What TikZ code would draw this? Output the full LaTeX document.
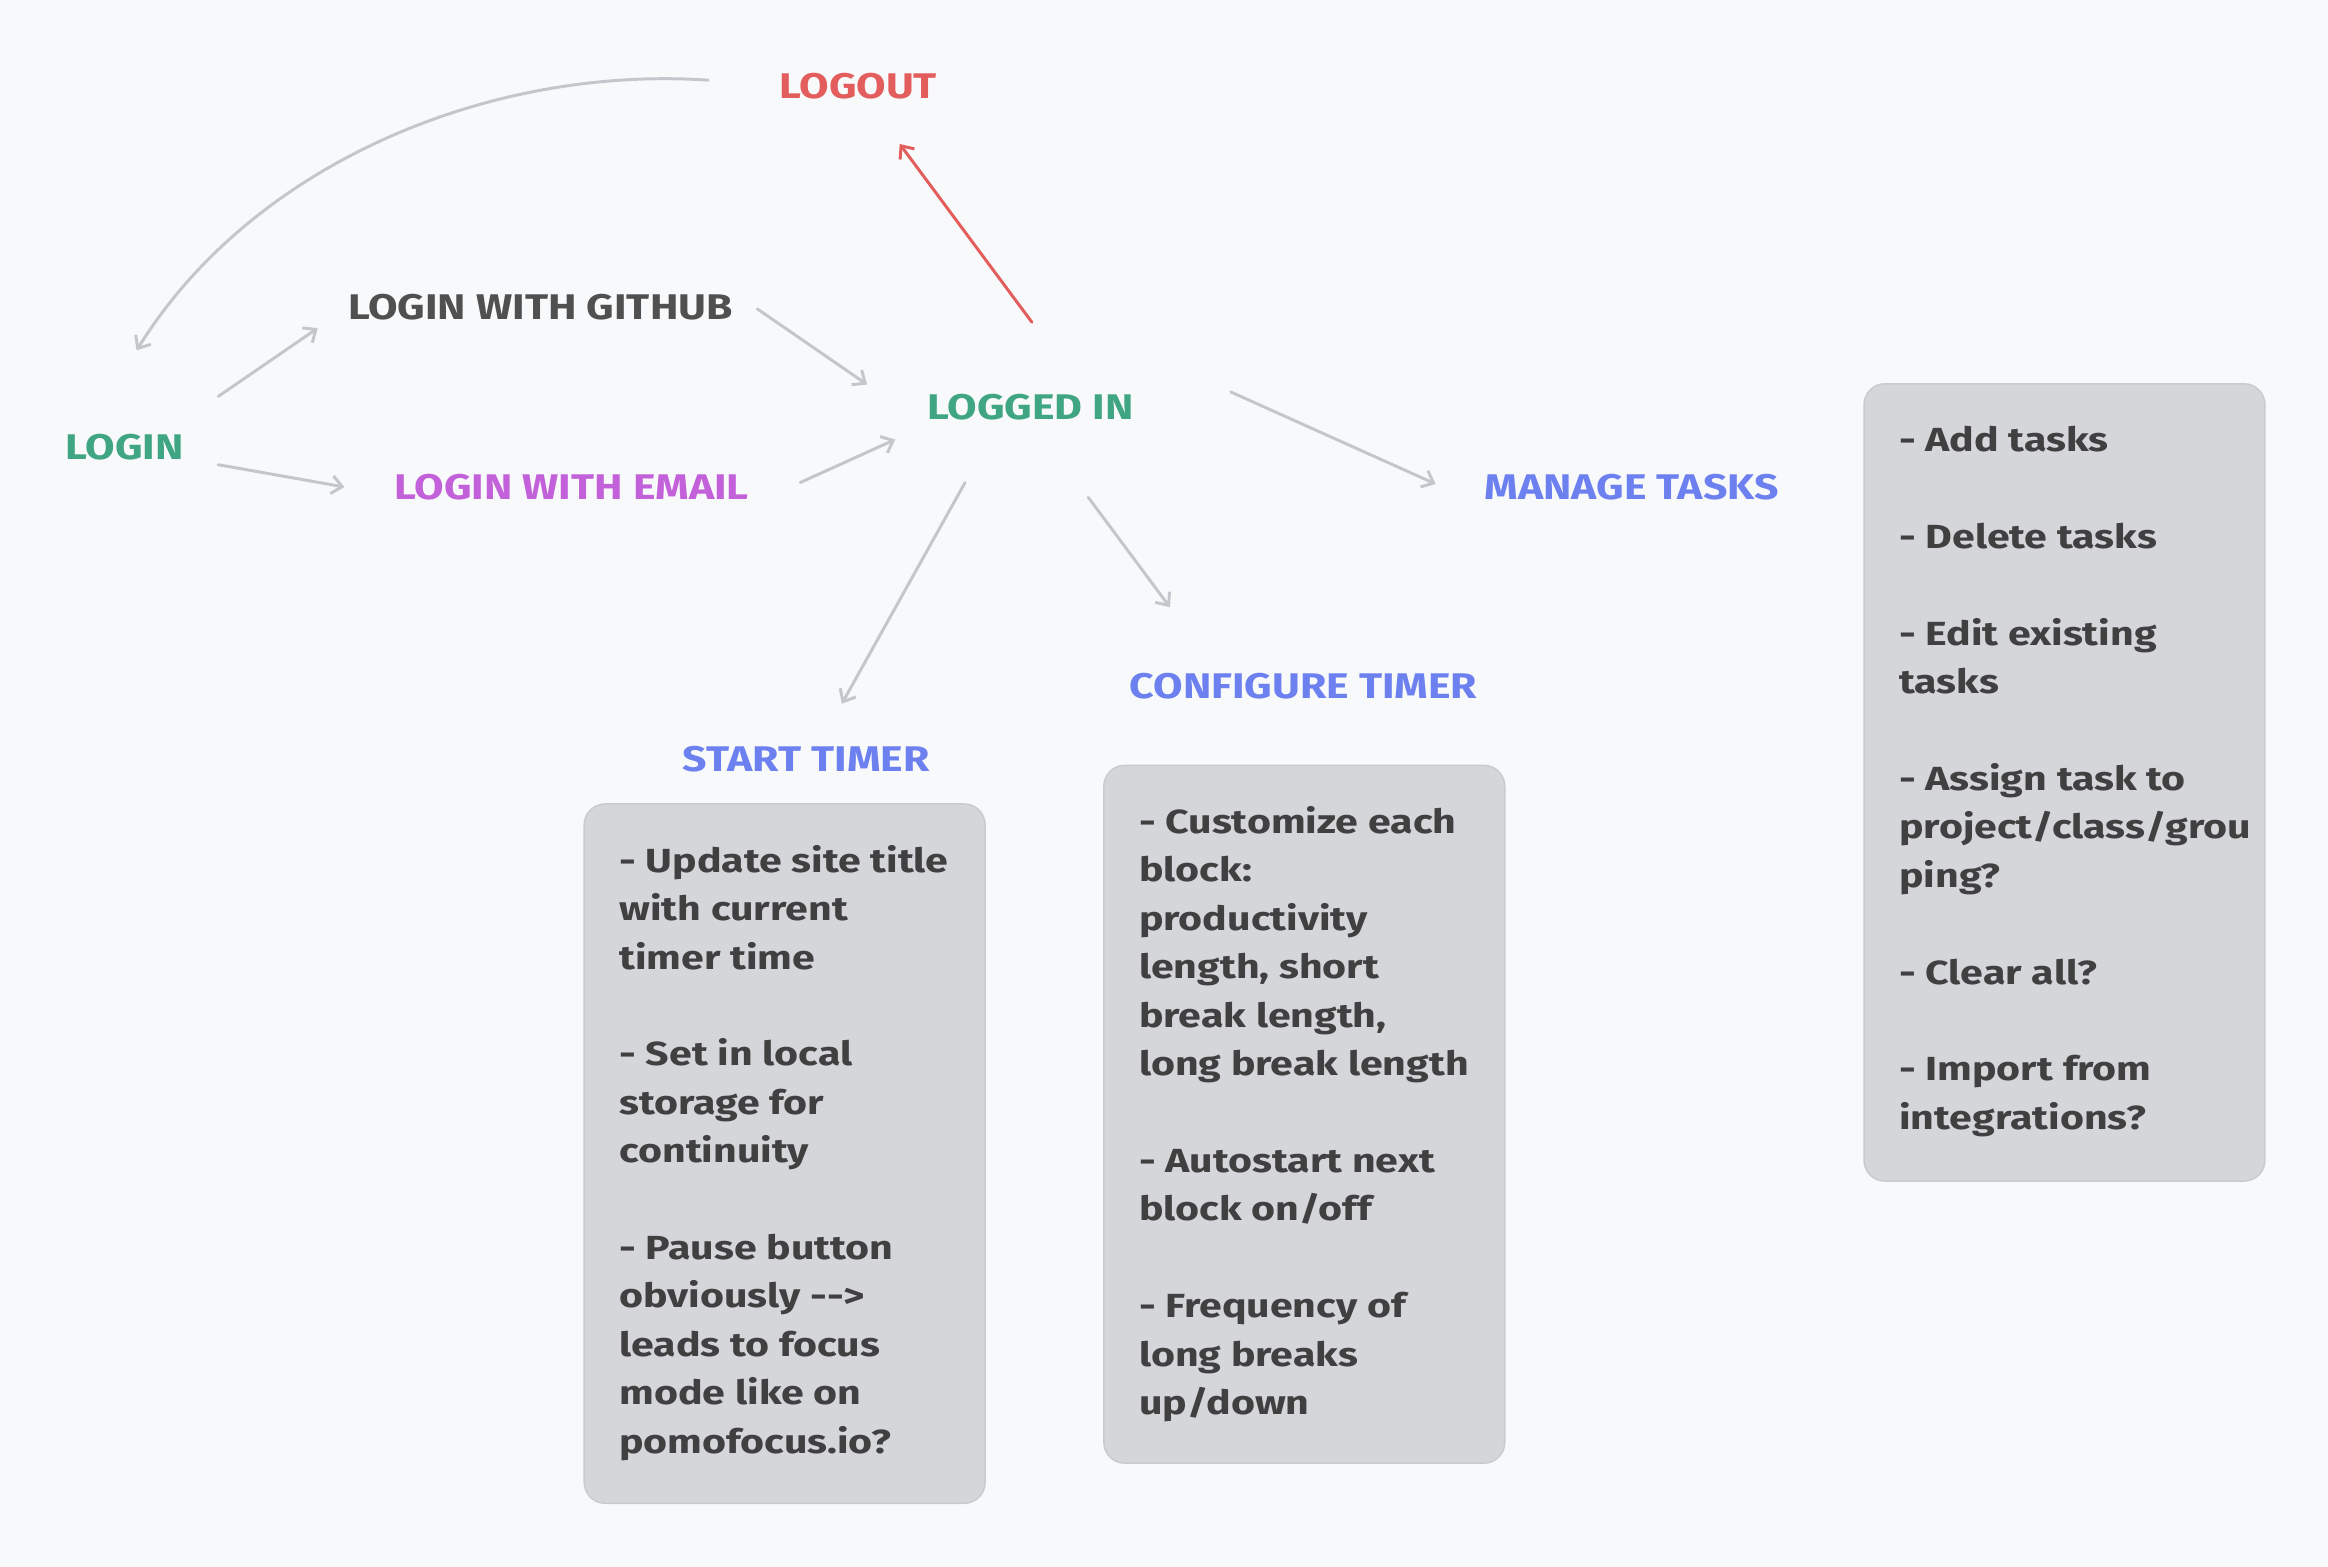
\documentclass[tikz,border=0pt]{standalone}
\usepackage{fontspec}
\setmainfont{Fira Sans}
\newfontfamily\lblfont[FakeStretch=1.2]{Fira Sans}
\newfontfamily\boxfont[FakeStretch=1.23]{Fira Sans}
\usetikzlibrary{arrows.meta}
\definecolor{bgc}{HTML}{F8F9FA}
\definecolor{arrc}{HTML}{C3C7CC}
\definecolor{redc}{HTML}{E35D5D}
\definecolor{greenc}{HTML}{3FA582}
\definecolor{purplec}{HTML}{C261D9}
\definecolor{bluec}{HTML}{6C80EF}
\definecolor{darkc}{HTML}{404040}
\definecolor{grayc}{HTML}{505050}
\definecolor{boxfill}{HTML}{D4D6DA}
\definecolor{boxline}{HTML}{C9CBCF}
\tikzset{
  lbl/.style={font=\lblfont\fontsize{24}{28}\selectfont\bfseries, inner sep=0pt},
  arr/.style={draw=arrc, line width=2pt, line cap=round, -{Straight Barb[length=7pt,width=12pt,line width=2pt]}},
  redarr/.style={arr, draw=redc},
  boxbg/.style={draw=boxline, fill=boxfill, line width=1pt, rounded corners=14pt, anchor=north west, inner sep=0pt},
  boxtxt/.style={anchor=north west, inner sep=0pt, align=left, text=darkc, font=\boxfont\fontsize{22.5}{32.6}\selectfont\bfseries}
}
\begin{document}
\begin{tikzpicture}[x=1pt,y=-1pt]
\useasboundingbox[fill=bgc] (0,0) rectangle (1568,1055);
% labels
\node[lbl, text=redc] (logout) at (578,58) {LOGOUT};
\node[lbl, text=grayc] (github) at (364,207) {LOGIN WITH GITHUB};
\node[lbl, text=greenc] (login) at (84,301) {LOGIN};
\node[lbl, text=purplec] (email) at (385,328) {LOGIN WITH EMAIL};
\node[lbl, text=greenc] (loggedin) at (694,274) {LOGGED IN};
\node[lbl, text=bluec] (manage) at (1099,328) {MANAGE TASKS};
\node[lbl, text=bluec] (config) at (878,462) {CONFIGURE TIMER};
\node[lbl, text=bluec] (start) at (543,511) {START TIMER};
% boxes
\node[boxbg, minimum width=270, minimum height=471] (startbox) at (393,541) {};
\node[boxtxt] (starttxt) at (417,569) {- Update site title\\with current\\timer time\\[32.6pt]- Set in local\\storage for\\continuity\\[32.6pt]- Pause button\\obviously -{}-{}>\\leads to focus\\mode like on\\pomofocus.io?};
\node[boxbg, minimum width=270, minimum height=470] (configbox) at (743,515) {};
\node[boxtxt] (configtxt) at (767,543) {- Customize each\\block:\\productivity\\length, short\\break length,\\long break length\\[32.6pt]- Autostart next\\block on/off\\[32.6pt]- Frequency of\\long breaks\\up/down};
\node[boxbg, minimum width=270, minimum height=537] (managebox) at (1255,258) {};
\node[boxtxt] (managetxt) at (1279,287) {- Add tasks\\[32.6pt]- Delete tasks\\[32.6pt]- Edit existing\\tasks\\[32.6pt]- Assign task to\\project/class/grou\\ping?\\[32.6pt]- Clear all?\\[32.6pt]- Import from\\integrations?};
% connector end points
\coordinate (lo-s) at (477,54);
\coordinate (lo-e) at (92,236);
\coordinate (lg-s) at (147,267);
\coordinate (lg-e) at (214,221);
\coordinate (le-s) at (147,313);
\coordinate (le-e) at (232,328);
\coordinate (gi-s) at (510,208);
\coordinate (gi-e) at (584,259);
\coordinate (ei-s) at (539,325);
\coordinate (ei-e) at (603,296);
\coordinate (io-s) at (695,217);
\coordinate (io-e) at (606,97);
\coordinate (im-s) at (829,264);
\coordinate (im-e) at (967,326);
\coordinate (is-s) at (650,325);
\coordinate (is-e) at (567,474);
\coordinate (ic-s) at (733,335);
\coordinate (ic-e) at (788,409);
% connectors
\draw[arr] (lo-s) .. controls (330,44) and (170,110) .. (lo-e);
\draw[arr] (lg-s) -- (lg-e);
\draw[arr] (le-s) -- (le-e);
\draw[arr] (gi-s) -- (gi-e);
\draw[arr] (ei-s) -- (ei-e);
\draw[redarr] (io-s) -- (io-e);
\draw[arr] (im-s) -- (im-e);
\draw[arr] (is-s) -- (is-e);
\draw[arr] (ic-s) -- (ic-e);
\end{tikzpicture}
\end{document}
